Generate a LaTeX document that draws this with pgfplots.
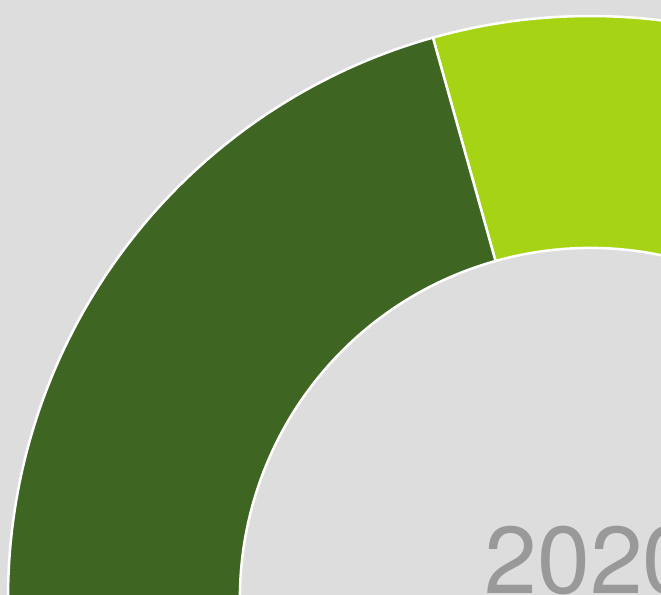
\documentclass[border=0pt]{standalone}
\usepackage{pgfplots}
\pgfplotsset{compat=1.18}
\usepackage{pgfplotstable}
\usepackage{fontspec}
\setmainfont{TeX Gyre Heros}
\definecolor{bgc}{HTML}{DDDDDD}
\definecolor{darkg}{HTML}{3F6522}
\definecolor{lightg}{HTML}{A6D314}
\definecolor{txt}{HTML}{999999}
\pgfplotstableread{
label value
A 35
B 65
}\slices
\begin{document}
\begin{tikzpicture}
\useasboundingbox (0,0) rectangle (330.5pt,297.5pt);
\fill[bgc] (0,0) rectangle (330.5pt,297.5pt);
\pgfplotstablegetelem{0}{value}\of\slices \let\va\pgfplotsretval
\pgfplotstablegetelem{1}{value}\of\slices \let\vb\pgfplotsretval
\pgfmathsetmacro{\start}{105.66}
\pgfmathsetmacro{\aA}{\start-3.6*\va}
\pgfmathsetmacro{\aB}{\start+3.6*\vb}
\begin{axis}[x=0.5pt,y=0.5pt,xmin=0,xmax=661,ymin=0,ymax=595,
  hide axis, clip=true, anchor=south west, at={(0,0)}]
\addplot[fill=lightg, draw=white, line width=1.25pt, domain=\aA:\start,
  samples=160, variable=\t]
  ({590+582*cos(\t)},{-3+582*sin(\t)})
  -- (axis cs:{590+350*cos(\start)},{-3+350*sin(\start)})
  arc[start angle=\start, end angle=\aA, radius=175pt] -- cycle;
\addplot[fill=darkg, draw=white, line width=1.25pt, domain=\start:\aB,
  samples=240, variable=\t]
  ({590+582*cos(\t)},{-3+582*sin(\t)})
  -- (axis cs:{590+350*cos(\aB)},{-3+350*sin(\aB)})
  arc[start angle=\aB, end angle=\start, radius=175pt] -- cycle;
\node[anchor=base west, inner sep=0pt, text=txt,
  font=\fontsize{47.5}{50}\selectfont] at (axis cs:484,1) {2020};
\end{axis}
\end{tikzpicture}
\end{document}
